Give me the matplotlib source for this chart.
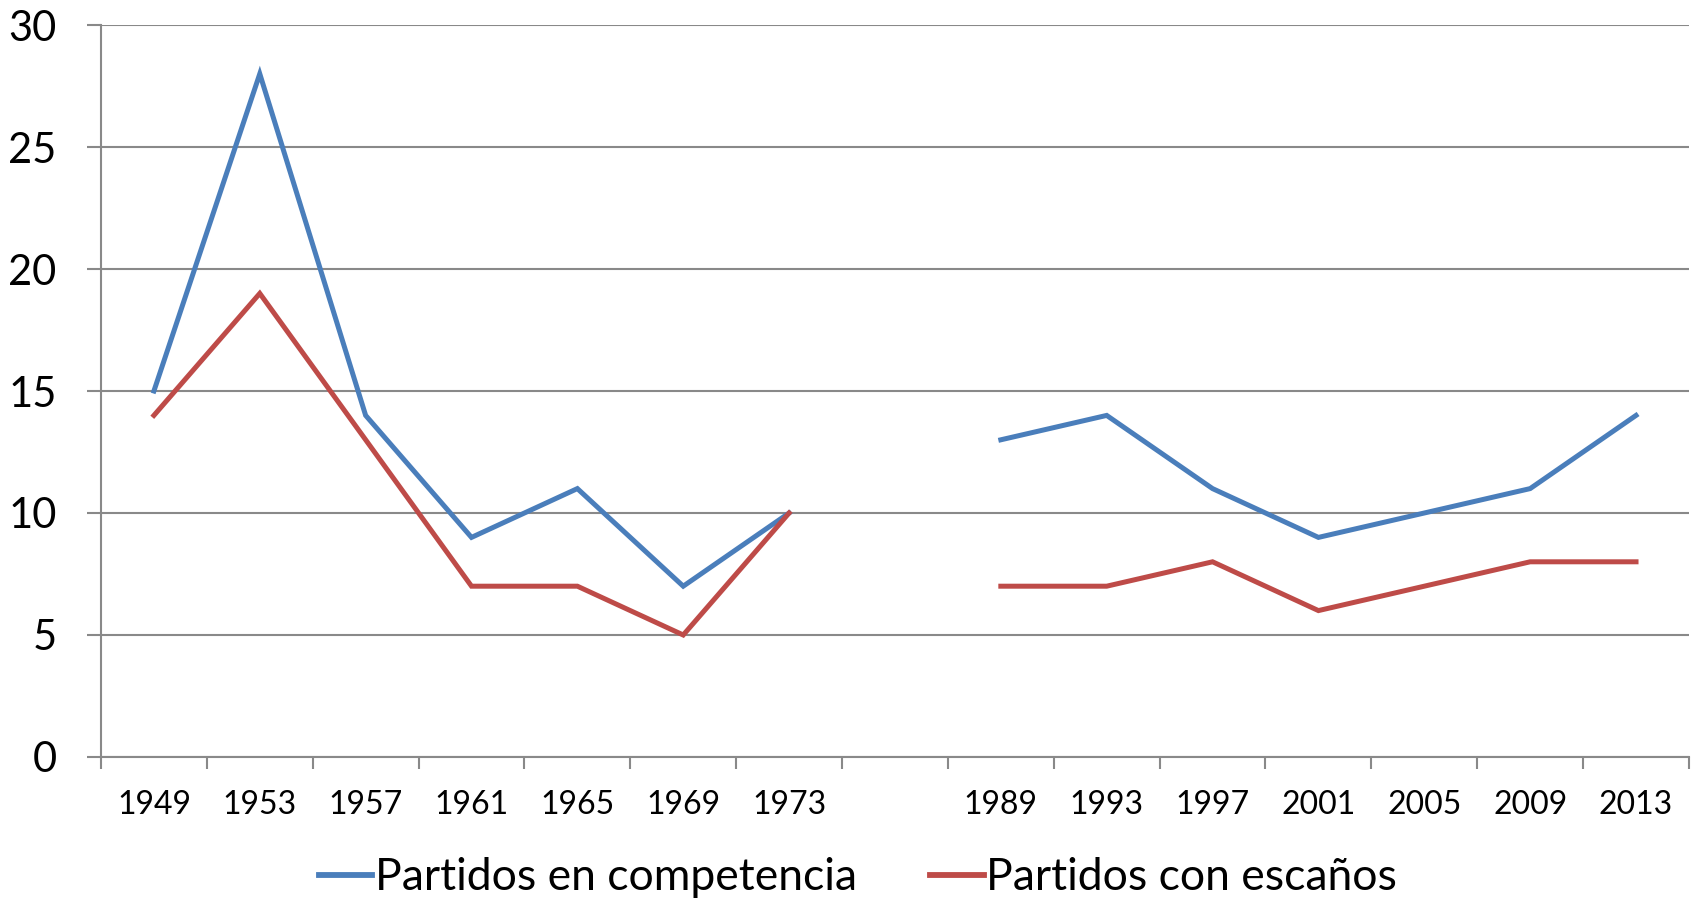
import numpy as np
import matplotlib.pyplot as plt

# Category labels (blank slot between 1973 and 1989)
years = ['1949', '1953', '1957', '1961', '1965', '1969', '1973', '',
         '1989', '1993', '1997', '2001', '2005', '2009', '2013']
competencia = [15, 28, 14, 9, 11, 7, 10, np.nan, 13, 14, 11, 9, 10, 11, 14]
escanos = [14, 19, 13, 7, 7, 5, 10, np.nan, 7, 7, 8, 6, 7, 8, 8]

plt.rcParams['font.family'] = ['Lato', 'DejaVu Sans']

fig = plt.figure(figsize=(17, 9.07), dpi=100)
ax = fig.add_axes([0.0594, 0.1654, 0.9341, 0.807])

x = np.arange(len(years))
gray = '#898989'

ax.plot(x, competencia, color='#4A7EBB', linewidth=3.6, label='Partidos en competencia',
        solid_joinstyle='miter', zorder=3)
ax.plot(x, escanos, color='#BE4B48', linewidth=3.6, label='Partidos con escaños',
        solid_joinstyle='miter', zorder=3)

ax.set_xlim(-0.5, len(years) - 0.5)
ax.set_ylim(0, 30)
ax.set_yticks(range(0, 31, 5))
ax.yaxis.grid(True, color=gray, linewidth=1.5)
ax.set_axisbelow(True)

# labels centered in categories, ticks on the boundaries
ax.set_xticks(x)
ax.set_xticklabels(years, fontsize=23)
ax.set_xticks(np.arange(-0.5, len(years)), minor=True)
ax.tick_params(axis='x', which='major', length=0, pad=24)
ax.tick_params(axis='x', which='minor', length=8.5, width=1.5, color=gray, direction='out')
ax.tick_params(axis='y', length=10, width=1.5, color=gray, pad=22, labelsize=30)

for s in ['top', 'right']:
    ax.spines[s].set_visible(False)
for s in ['left', 'bottom']:
    ax.spines[s].set_color(gray)
    ax.spines[s].set_linewidth(1.5)

leg = fig.legend(loc='center', bbox_to_anchor=(858 / 1700, 1 - 878 / 907), ncol=2,
                 frameon=False, fontsize=32, handlelength=1.2, handletextpad=0.06,
                 columnspacing=1.65)
for line in leg.get_lines():
    line.set_linewidth(4.2)

fig.savefig('out.png', dpi=100)
